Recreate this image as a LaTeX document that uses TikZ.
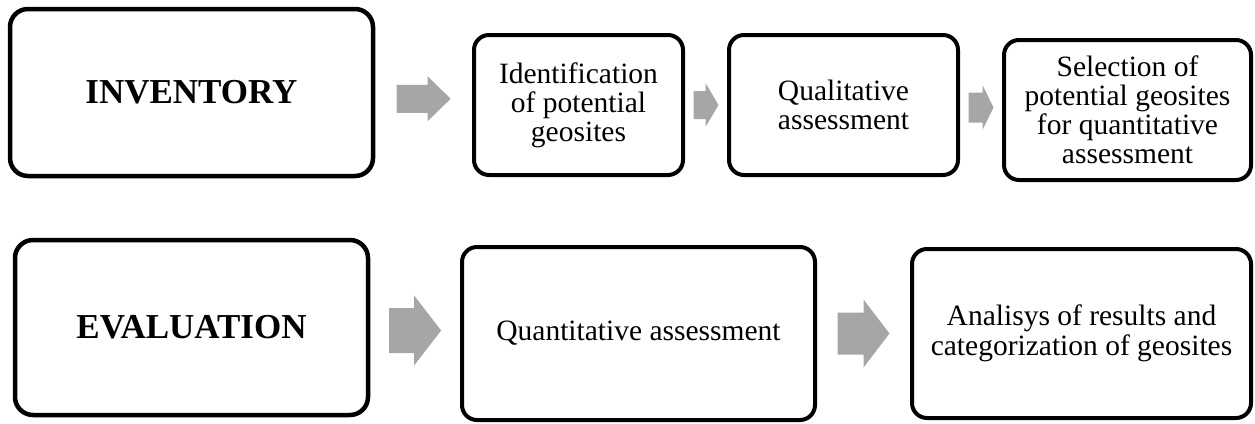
\documentclass[tikz,border=0pt]{standalone}
\usepackage{fontspec}
\setmainfont{Liberation Serif}
\usetikzlibrary{calc}

\definecolor{arrowgray}{RGB}{166,166,166}

\tikzset{
  stagebox/.style={draw=black, line width=4.5pt, rounded corners=18pt, fill=white,
    inner sep=0pt, font=\fontsize{35}{40}\selectfont\bfseries},
  taskbox/.style={draw=black, line width=4pt, rounded corners=15pt, fill=white,
    inner sep=0pt, align=center, font=\fontsize{29.5}{29}\selectfont},
  pics/blockarrow/.style args={#1/#2/#3/#4}{code={
    \fill[arrowgray] (-#1/2,#3/2) -- ({#1/2-#4},#3/2) -- ({#1/2-#4},#2/2)
      -- (#1/2,0) -- ({#1/2-#4},-#2/2) -- ({#1/2-#4},-#3/2) -- (-#1/2,-#3/2) -- cycle;
  }}
}

\begin{document}
\begin{tikzpicture}[x=1pt, y=-1pt]
\useasboundingbox (0,0) rectangle (1255,423);

% first row
\node[stagebox, minimum width=363pt, minimum height=167pt] (inv) at (191.5,92.5) {INVENTORY};
\node[taskbox, minimum width=209pt, minimum height=140pt] (ident) at (578.5,105) {Identification\\of potential\\geosites};
\node[taskbox, minimum width=229pt, minimum height=140pt] (qual) at (843.5,105) {Qualitative\\assessment};
\node[taskbox, minimum width=247pt, minimum height=140pt] (sel) at (1127.5,110) {Selection of\\potential geosites\\for quantitative\\assessment};

% second row
\node[stagebox, minimum width=353pt, minimum height=175pt] (eval) at (191.5,327.5) {EVALUATION};
\node[taskbox, minimum width=353pt, minimum height=173pt] (quant) at (638.5,333.5) {Quantitative assessment};
\node[taskbox, minimum width=339pt, minimum height=169pt, font=\fontsize{29.5}{30}\selectfont] (anal) at (1081.5,333.5) {Analisys of results and\\categorization of geosites};

% arrows
\pic at ($(inv.east)!0.5!(ident.west)$) {blockarrow={54/45/28/23}};
\pic at ($(ident.east)!0.5!(qual.west)$) {blockarrow={25/44/28/13}};
\pic at ($(qual.east)!0.5!(sel.west)$) {blockarrow={25/45/30/11}};
\pic at ($(eval.east)!0.5!(quant.west)$) {blockarrow={52/70/45/27}};
\pic at ($(quant.east)!0.5!(anal.west)$) {blockarrow={52/68/42/26}};
\end{tikzpicture}
\end{document}
